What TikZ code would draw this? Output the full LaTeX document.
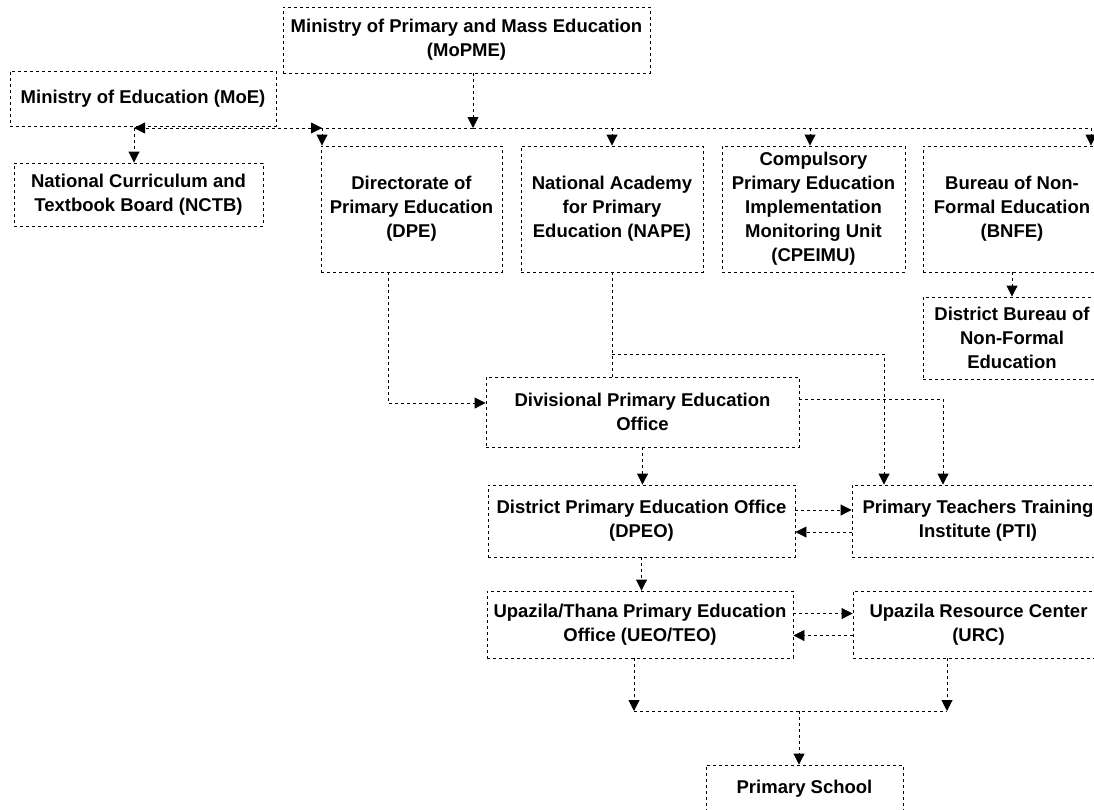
\documentclass[tikz,border=0pt]{standalone}
\usepackage{fontspec}
\setmainfont{Liberation Sans}
\usetikzlibrary{arrows.meta}
\tikzset{box/.style={draw, dashed, line width=0.9pt, align=center, inner sep=0pt, font=\bfseries\fontsize{18.5}{24}\selectfont}}
\tikzset{edge/.style={dashed, line width=0.9pt}}
\tikzset{arc/.style={edge, -{Triangle[length=11pt,width=11pt]}}}

\begin{document}
\begin{tikzpicture}[x=1pt,y=-1pt]
%offices of primary education, from the ministries down to the school
\useasboundingbox (0,0) rectangle (1094,809);
\node (mopme) at (466.5,40)[box, minimum width=367, minimum height=66]{Ministry of Primary and Mass Education\\(MoPME)};
\node (moe) at (143,98.5)[box, minimum width=266, minimum height=55]{Ministry of Education (MoE)};
\node (nctb) at (138.5,194.5)[box, minimum width=249, minimum height=63]{National Curriculum and\\Textbook Board (NCTB)};
\node (dpe) at (411.5,209)[box, minimum width=181, minimum height=126]{Directorate of\\Primary Education\\(DPE)};
\node (nape) at (612,209)[box, minimum width=182, minimum height=126]{National Academy\\for Primary\\Education (NAPE)};
\node (cpeimu) at (813.5,209)[box, minimum width=183, minimum height=126]{Compulsory\\Primary Education\\Implementation\\Monitoring Unit\\(CPEIMU)};
\node (bnfe) at (1012,209)[box, minimum width=178, minimum height=126]{Bureau of Non-\\Formal Education\\(BNFE)};
\node (dbnfe) at (1012,338)[box, minimum width=178, minimum height=82]{District Bureau of\\Non-Formal\\Education};
\node (dvpeo) at (642.5,412)[box, minimum width=313, minimum height=70]{Divisional Primary Education\\Office};
\node (dpeo) at (641.5,521)[box, minimum width=307, minimum height=72]{District Primary Education Office\\(DPEO)};
\node (pti) at (978,521)[box, minimum width=252, minimum height=72]{Primary Teachers Training\\Institute (PTI)};
\node (ueo) at (640,624.5)[box, minimum width=306, minimum height=67]{Upazila/Thana Primary Education\\Office (UEO/TEO)};
\node (urc) at (978.5,624.5)[box, minimum width=251, minimum height=67]{Upazila Resource Center\\(URC)};
\node (school) at (804.5,789)[box, minimum width=197, minimum height=48]{Primary School};
% bends of the connectors
\coordinate (b0) at (134,128);
\coordinate (b1) at (322,128);
\coordinate (b2) at (473,128);
\coordinate (b3) at (612,128);
\coordinate (b4) at (810,128);
\coordinate (b5) at (1091,128);
\coordinate (k1) at (388,403);
\coordinate (k2) at (612,354);
\coordinate (k3) at (884,354);
\coordinate (k4) at (943,399);
\coordinate (u1) at (634,711);
\coordinate (u2) at (947,711);
\coordinate (u3) at (799,711);
\draw[arc] (mopme.south -| b2)--(b2);
\draw[arc] (b2)--(b0);
\draw[arc] (b0)--(b1);
\draw[edge] (b2)--(b5);
\draw[arc] (b0)--(nctb.north -| b0);
\draw[arc] (b1)--(dpe.north -| b1);
\draw[arc] (b3)--(nape.north);
\draw[arc] (b4)--(cpeimu.north -| b4);
\draw[arc] (b5)--(bnfe.north -| b5);
\draw[arc] (bnfe.south)--(dbnfe.north);
\draw[arc] (dpe.south -| k1)--(k1)--(dvpeo.west |- k1);
\draw[edge] (nape.south)--(dvpeo.north -| nape.south);
\draw[arc] (k2)--(k3)--(pti.north -| k3);
\draw[arc] (dvpeo.east |- k4)--(k4)--(pti.north -| k4);
\draw[arc] (dvpeo.south)--(dpeo.north -| dvpeo.south);
\draw[arc] ([yshift=11pt]dpeo.east)--([yshift=11pt]pti.west);
\draw[arc] ([yshift=-11pt]pti.west)--([yshift=-11pt]dpeo.east);
\draw[arc] (dpeo.south)--(ueo.north -| dpeo.south);
\draw[arc] ([yshift=11pt]ueo.east)--([yshift=11pt]urc.west);
\draw[arc] ([yshift=-11pt]urc.west)--([yshift=-11pt]ueo.east);
\draw[arc] (ueo.south -| u1)--(u1);
\draw[arc] (urc.south -| u2)--(u2);
\draw[edge] (u1)--(u2);
\draw[arc] (u3)--(school.north -| u3);
\end{tikzpicture}
\end{document}
